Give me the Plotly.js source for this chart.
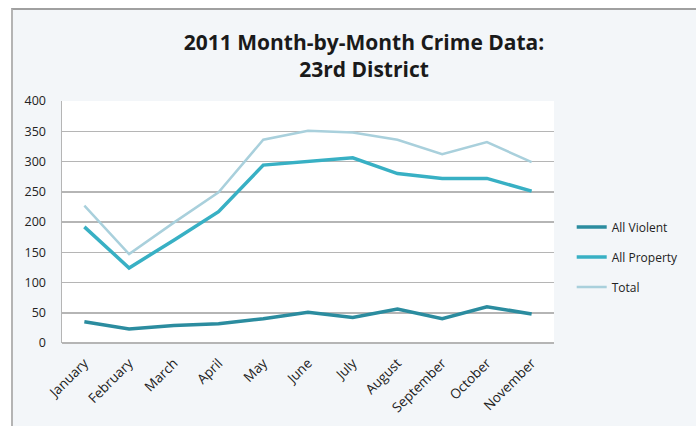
<!DOCTYPE html>
<html>
<head>
<meta charset="utf-8">
<script src="https://cdn.plot.ly/plotly-3.0.1.min.js"></script>
<style>
  html, body { margin: 0; padding: 0; background: #ffffff; }
  #bg { position: absolute; left: 11px; top: 8px; width: 685px; height: 418px;
        background: #f3f6f9; border-left: 2px solid #b4b4b4; border-top: 2px solid #a0a0a0; box-sizing: border-box; }
  #chart { position: absolute; left: 0; top: 0; width: 696px; height: 426px; }
</style>
</head>
<body>
<div id="bg"></div>
<div id="chart"></div>
<script>
const months = ["January","February","March","April","May","June","July","August","September","October","November"];
const allViolent  = [35, 23, 29, 32, 40, 51, 42, 56, 40, 60, 48];
const allProperty = [192, 124, 170, 217, 294, 300, 306, 280, 272, 272, 251];
const total       = [227, 147, 199, 249, 336, 351, 348, 336, 312, 332, 299];
const seriesNames = ["All Violent", "All Property", "Total"];
const yTicks = [0, 50, 100, 150, 200, 250, 300, 350, 400];

const traces = [
  {x: months, y: allViolent, name: seriesNames[0], legendgroup: "a", type: "scatter", mode: "lines",
   line: {color: "#2b8c9f", width: 3.5}},
  {x: months, y: allProperty, name: seriesNames[1], legendgroup: "b", type: "scatter", mode: "lines",
   line: {color: "#38b0c4", width: 3.5}},
  {x: months, y: total, name: seriesNames[2], legendgroup: "c", type: "scatter", mode: "lines",
   line: {color: "#a9d0dc", width: 2.5}}
];

const layout = {
  width: 696, height: 426,
  margin: {l: 62, r: 134, t: 101, b: 83},
  paper_bgcolor: "rgba(0,0,0,0)",
  plot_bgcolor: "#ffffff",
  font: {family: "Open Sans, sans-serif", color: "#222222"},
  title: {
    text: "<b>2011 Month-by-Month Crime Data:<br>23rd District</b>",
    font: {size: 21, color: "#1a1a1a", family: "Open Sans, sans-serif"},
    x: 0.523, xref: "container", xanchor: "center",
    y: 0.883, yref: "container", yanchor: "bottom"
  },
  xaxis: {
    type: "category",
    range: [-0.5, 10.5],
    tickangle: -45,
    tickfont: {size: 13.5, color: "#222222"},
    showgrid: false,
    showline: false,
    zeroline: false,
    ticks: "outside",
    ticklen: 6,
    tickcolor: "rgba(0,0,0,0)",
    fixedrange: true
  },
  yaxis: {
    range: [0, 400],
    tickvals: yTicks,
    ticktext: yTicks.map(String),
    tickfont: {size: 12.5, color: "#222222"},
    showgrid: true,
    gridcolor: "#b5b5b5",
    gridwidth: 1.5,
    zeroline: true,
    zerolinecolor: "#b5b5b5",
    zerolinewidth: 2,
    showline: true,
    linecolor: "#b5b5b5",
    linewidth: 1.5,
    ticks: "outside",
    ticklen: 12,
    tickcolor: "rgba(0,0,0,0)",
    fixedrange: true
  },
  legend: {
    x: 1.036, xanchor: "left",
    y: 0.355, yanchor: "middle",
    bgcolor: "rgba(0,0,0,0)",
    font: {size: 12, color: "#222222"},
    traceorder: "grouped",
    tracegroupgap: 11,
    itemwidth: 30
  },
  showlegend: true
};

Plotly.newPlot("chart", traces, layout, {displayModeBar: false, staticPlot: true});
</script>
</body>
</html>
